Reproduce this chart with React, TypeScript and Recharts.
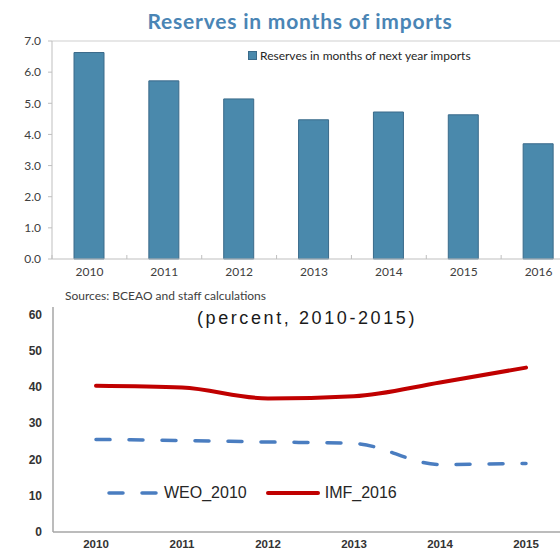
import { BarChart, Bar, LineChart, Line, XAxis, YAxis, ReferenceLine } from 'recharts';

// top panel: reserves in months of next year imports
const barYears = ['2010', '2011', '2012', '2013', '2014', '2015', '2016'];
const reserveMonths = [6.63, 5.72, 5.14, 4.47, 4.72, 4.63, 3.7];
const barTicks = [0, 1, 2, 3, 4, 5, 6, 7];

// bottom panel: percent, 2010-2015
const lineYears = ['2010', '2011', '2012', '2013', '2014', '2015'];
const weo2010 = [25.5, 25.2, 24.8, 24.4, 18.6, 18.9];
const imf2016 = [40.3, 39.8, 36.8, 37.4, 41.2, 45.3];
const lineTicks = [0, 10, 20, 30, 40, 50, 60];

const calibri = 'Lato, "Open Sans", sans-serif';
const arial = '"Liberation Sans", Arial, sans-serif';

function YearTick(props: any) {
  const { x, y, payload } = props;
  const half = payload?.offset ?? 0;
  return (
    <g>
      <line x1={x - half} x2={x - half} y1={y - 12} y2={y - 8} stroke="#bfbfbf" />
      <text x={x} y={y} dy="0.71em" textAnchor="middle" fontSize={12} fontFamily={calibri} fill="#404040">
        {payload.value}
      </text>
    </g>
  );
}

export default function App() {
  const barData = barYears.map((year, i) => ({ year, reserves: reserveMonths[i] }));
  const lineData = lineYears.map((year, i) => ({ year, weo: weo2010[i], imf: imf2016[i] }));

  return (
    <div style={{ position: 'absolute', left: 0, top: 0, width: 560, height: 552, overflow: 'hidden', background: '#fff' }}>
      {/* top chart */}
      <div style={{ position: 'absolute', left: 0, top: 0, width: 560, height: 290, overflow: 'hidden' }}>
        <div
          style={{
            position: 'absolute', left: 0, top: 8, width: 600, textAlign: 'center',
            fontFamily: calibri, fontWeight: 700, fontSize: 21, letterSpacing: 0.8, color: '#4a85b5', lineHeight: '26px',
          }}
        >
          Reserves in months of imports
        </div>
        <BarChart width={600} height={290} data={barData} margin={{ top: 41, right: 24, bottom: 0, left: 0 }}>
          <ReferenceLine y={7} stroke="#cfcfcf" />
          <YAxis
            width={52}
            domain={[0, 7]}
            ticks={barTicks}
            tickFormatter={(v: number) => v.toFixed(1)}
            axisLine={{ stroke: '#bfbfbf' }}
            tickLine={{ stroke: '#bfbfbf' }}
            tickSize={4}
            tickMargin={7}
            tick={{ fontSize: 12, fontFamily: calibri, fill: '#404040' }}
          />
          <XAxis
            dataKey="year"
            height={31}
            axisLine={{ stroke: '#bfbfbf' }}
            tickLine={false}
            tickSize={0}
            tickMargin={8}
            interval={0}
            tick={<YearTick />}
          />
          <Bar dataKey="reserves" fill="#4a89ac" stroke="#3a6a8a" strokeWidth={1} barSize={30} isAnimationActive={false} />
        </BarChart>
        <div
          style={{
            position: 'absolute', left: 248, top: 48, display: 'flex', alignItems: 'center',
            fontFamily: calibri, fontSize: 12, color: '#262626', whiteSpace: 'nowrap',
          }}
        >
          <span style={{ display: 'inline-block', width: 7, height: 7, background: '#4a89ac', border: '1px solid #3a6a8a', marginRight: 3 }} />
          Reserves in months of next year imports
        </div>
      </div>

      <div style={{ position: 'absolute', left: 65, top: 288, fontFamily: calibri, fontSize: 12, color: '#404040', whiteSpace: 'nowrap' }}>
        Sources: BCEAO and staff calculations
      </div>

      {/* bottom chart */}
      <div style={{ position: 'absolute', left: 0, top: 300, width: 560, height: 252, overflow: 'hidden' }}>
        <LineChart width={600} height={252} data={lineData} margin={{ top: 7, right: 31, bottom: 0, left: 0 }}>
          <YAxis
            width={53}
            domain={[0, 62]}
            ticks={lineTicks}
            axisLine={{ stroke: '#a6a6a6', strokeWidth: 1.5 }}
            tickLine={false}
            tickMargin={5}
            tick={{ fontSize: 12, fontWeight: 700, fontFamily: arial, fill: '#333' }}
          />
          <XAxis
            dataKey="year"
            scale="band"
            height={20}
            axisLine={{ stroke: '#a6a6a6', strokeWidth: 1.5 }}
            tickLine={false}
            tickMargin={2}
            interval={0}
            tick={{ fontSize: 11.5, fontWeight: 700, fontFamily: arial, fill: '#333' }}
          />
          <Line
            type="monotone"
            dataKey="weo"
            stroke="#4a7dc0"
            strokeWidth={3.5}
            strokeDasharray="14 19"
            strokeLinecap="round"
            dot={false}
            isAnimationActive={false}
          />
          <Line
            type="monotone"
            dataKey="imf"
            stroke="#c00000"
            strokeWidth={4}
            strokeLinecap="round"
            dot={false}
            isAnimationActive={false}
          />
        </LineChart>
        <div
          style={{
            position: 'absolute', left: 0, top: 6, width: 614, textAlign: 'center',
            fontFamily: arial, fontSize: 18, letterSpacing: 2.6, color: '#1a1a1a', lineHeight: '24px',
          }}
        >
          (percent, 2010-2015)
        </div>
        <div
          style={{
            position: 'absolute', left: 106, top: 184, display: 'flex', alignItems: 'center',
            fontFamily: arial, fontSize: 16, color: '#262626', whiteSpace: 'nowrap',
          }}
        >
          <svg width={54} height={8} style={{ marginRight: 4 }}>
            <line x1={3} x2={51} y1={4} y2={4} stroke="#4a7dc0" strokeWidth={3.5} strokeLinecap="round" strokeDasharray="14 19" />
          </svg>
          <span>WEO_2010</span>
          <svg width={56} height={8} style={{ marginLeft: 18, marginRight: 4 }}>
            <line x1={3} x2={53} y1={4} y2={4} stroke="#c00000" strokeWidth={4} strokeLinecap="round" />
          </svg>
          <span>IMF_2016</span>
        </div>
      </div>
    </div>
  );
}
